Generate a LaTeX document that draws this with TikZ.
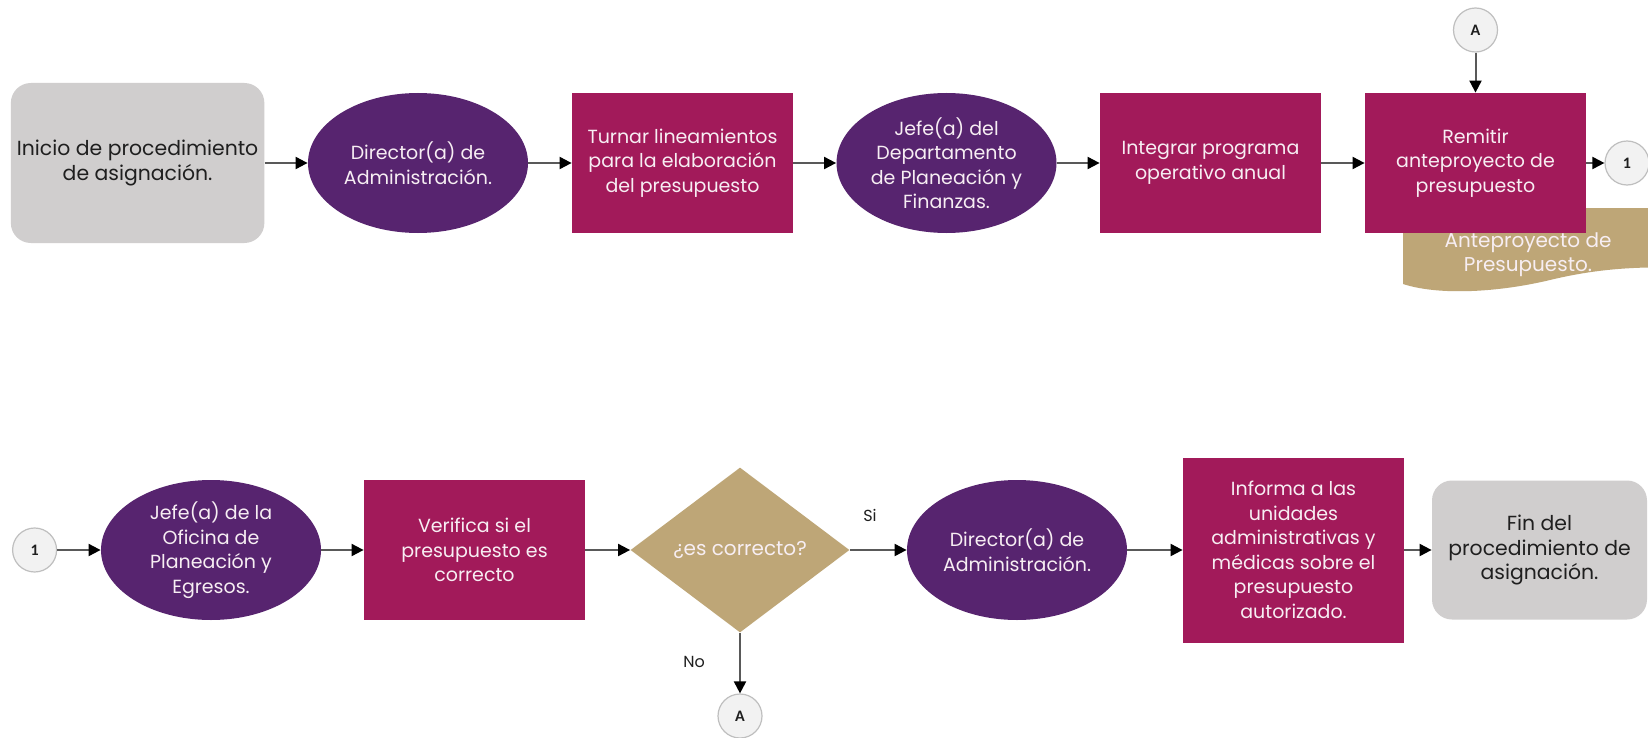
\documentclass[tikz,border=0pt]{standalone}
\usepackage{fontspec}
\setmainfont{Poppins}
\newfontfamily\circfont{Carlito}
\usetikzlibrary{shapes.geometric,arrows.meta}
\definecolor{boxgray}{HTML}{D0CECE}
\definecolor{purp}{HTML}{57246F}
\definecolor{mag}{HTML}{A21A5A}
\definecolor{tanc}{HTML}{BEA677}
\definecolor{linegray}{HTML}{595959}
\definecolor{circfill}{HTML}{F2F2F2}
\definecolor{circline}{HTML}{BFBFBF}
\definecolor{txtlight}{HTML}{F7EEF3}
\definecolor{txtdark}{HTML}{1F1F1F}
\begin{document}
\begin{tikzpicture}[x=0.5pt,y=-0.5pt,
 base/.style={inner sep=0pt, align=center, font=\fontsize{9.5}{12.25}\selectfont},
 procbox/.style={base, rectangle, fill=mag, text=txtlight, minimum width=110.5pt, minimum height=70pt},
 actor/.style={base, ellipse, fill=purp, text=txtlight, minimum width=110pt, minimum height=70pt},
 termbox/.style={base, rectangle, rounded corners=10pt, fill=boxgray, text=txtdark, font=\fontsize{10.2}{12.25}\selectfont},
 decis/.style={base, diamond, fill=tanc, text=txtlight, minimum width=109.5pt, minimum height=82.5pt, font=\fontsize{10}{12}\selectfont},
 conn/.style={circle, fill=circfill, draw=circline, line width=0.6pt, minimum size=22pt, inner sep=0pt, text=txtdark, font=\circfont\bfseries\fontsize{8}{9}\selectfont},
 flow/.style={draw=linegray, line width=1pt, -{Triangle[length=6pt,width=6pt,color=black]}},
 lbl/.style={font=\fontsize{8}{9}\selectfont, text=txtdark, inner sep=0pt}
]
\useasboundingbox (0,0) rectangle (1648,738);
\fill[white] (0,0) rectangle (1648,738);

% document shape (behind "Remitir")
\begin{scope}
\clip (0,0) rectangle (1648,738);
\fill[tanc] (1403,208) -- (1700,208) -- (1700,268)
  .. controls (1640,266) and (1600,268) .. (1550,280)
  .. controls (1500,292) and (1440,296) .. (1403,284) -- cycle;
\end{scope}
\node[base, text=txtlight, font=\fontsize{10}{12.25}\selectfont] (doc) at (1528,254.5) {Anteproyecto de\\Presupuesto.};

% row 1
\node[termbox, minimum width=126.75pt, minimum height=80pt] (start) at (137.6,163) {Inicio de procedimiento\\de asignación.};
\node[actor] (dir1) at (418,163) {Director(a) de\\Administración.};
\node[procbox] (turn) at (682.5,163) {Turnar lineamientos\\para la elaboración\\del presupuesto};
\node[actor] (jefe1) at (946.5,163) {Jefe(a) del\\Departamento\\de Planeación y\\Finanzas.};
\node[procbox] (integ) at (1210.5,163) {Integrar programa\\operativo anual};
\node[procbox] (remit) at (1475.5,163) {Remitir\\anteproyecto de\\presupuesto};
\node[conn] (cA1) at (1475.5,30) {A};
\node[conn] (c1a) at (1627,163) {1};

% row 2
\node[conn] (c1b) at (34.6,550) {1};
\node[actor] (jefe2) at (211,550) {Jefe(a) de la\\Oficina de\\Planeación y\\Egresos.};
\node[procbox] (verif) at (474.5,550) {Verifica si el\\presupuesto es\\correcto};
\node[decis] (dec) at (740,550) {¿es correcto?};
\node[actor] (dir2) at (1017,550) {Director(a) de\\Administración.};
\node[procbox, minimum height=92.5pt] (inform) at (1293.5,550) {Informa a las\\unidades\\administrativas y\\médicas sobre el\\presupuesto\\autorizado.};
\node[termbox, minimum width=107.5pt, minimum height=69.5pt] (fin) at (1539.5,550) {Fin del\\procedimiento de\\asignación.};
\node[conn] (cA2) at (740,716) {A};

% connectors
\draw[flow] (start) -- (dir1);
\draw[flow] (dir1) -- (turn);
\draw[flow] (turn) -- (jefe1);
\draw[flow] (jefe1) -- (integ);
\draw[flow] (integ) -- (remit);
\draw[flow] (remit) -- (c1a);
\draw[flow] (cA1) -- (remit);
\draw[flow] (c1b) -- (jefe2);
\draw[flow] (jefe2) -- (verif);
\draw[flow] (verif) -- (dec);
\draw[flow] (dec) -- (dir2);
\draw[flow] (dec) -- (cA2);
\draw[flow] (dir2) -- (inform);
\draw[flow] (inform) -- (fin);

\node[lbl] (si) at (870,515) {Si};
\node[lbl] (no) at (694,662) {No};
\end{tikzpicture}
\end{document}
